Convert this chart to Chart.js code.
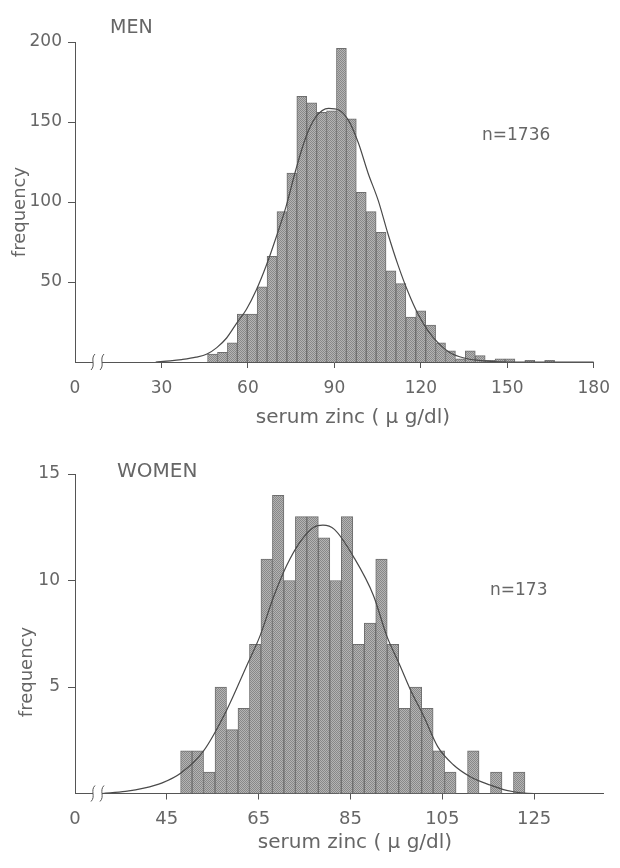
<!DOCTYPE html>
<html>
<head>
<meta charset="utf-8">
<script src="https://cdn.jsdelivr.net/npm/chart.js@4.4.1/dist/chart.umd.min.js"></script>
<style>
    html, body { margin: 0; padding: 0; background: #fff; }
    .panel { position: absolute; left: 0; width: 620px; height: 434px; }
    #men-panel { top: 0; }
    #women-panel { top: 434px; }
</style>
</head>
<body>
<div class="panel" id="men-panel"><canvas id="men-chart" width="620" height="434"></canvas></div>
<div class="panel" id="women-panel"><canvas id="women-chart" width="620" height="434"></canvas></div>
<script>
// MEN - bin centres (ug/dl) and counts
const menBins = [47.72, 51.16, 54.60, 58.04, 61.48, 64.92, 68.36, 71.80, 75.24, 78.68,
                 82.12, 85.56, 89.00, 92.44, 95.88, 99.32, 102.76, 106.20, 109.64, 113.08,
                 116.52, 119.96, 123.40, 126.84, 130.28, 133.72, 137.16, 140.60, 144.04, 147.48,
                 150.92, 154.36, 157.80, 161.24, 164.68];
const menCounts = [5, 6, 12, 30, 30, 47, 66, 94, 118, 166,
                   162, 156, 157, 196, 152, 106, 94, 81, 57, 49,
                   28, 32, 23, 12, 7, 2, 7, 4, 1, 2,
                   2, 0, 1, 0, 1];
// fitted curve, traced point by point
const menCurveX = [28, 33, 37, 42, 45.8, 49.2, 52.6, 56, 59.5, 62.9, 66.3, 69.8, 73.2, 76.6, 80, 83.5,
                   88, 91.5, 94.9, 98.3, 101.7, 105.2, 108.6, 112, 115.5, 119, 122.7, 126, 130, 135,
                   140, 145, 150, 180];
const menCurveY = [0, 0.7, 1.5, 3, 5, 9, 15, 24, 33, 45, 60, 78, 97, 120, 140, 153,
                   158.5, 157.5, 151, 137, 118, 101, 80, 61, 44, 30, 19, 12, 6, 2.5,
                   1, 0.3, 0, 0];
const menXTicks = [0, 30, 60, 90, 120, 150, 180];
const menXLabels = ['0', '30', '60', '90', '120', '150', '180'];
const menYTicks = [50, 100, 150, 200];

// WOMEN
const womenBins = [49.25, 51.75, 54.25, 56.75, 59.25, 61.75, 64.25, 66.75, 69.25, 71.75,
                   74.25, 76.75, 79.25, 81.75, 84.25, 86.75, 89.25, 91.75, 94.25, 96.75,
                   99.25, 101.75, 104.25, 106.75, 109.25, 111.75, 114.25, 116.75, 119.25, 121.75];
const womenCounts = [2, 2, 1, 5, 3, 4, 7, 11, 14, 10,
                     13, 13, 12, 10, 13, 7, 8, 11, 7, 4,
                     5, 4, 2, 1, 0, 2, 0, 1, 0, 1];
const womenCurveX = [31, 36, 40, 44, 48, 53, 58, 62.4, 65.3, 68.2, 71.1, 74, 77, 79, 81.5, 85.7,
                     90, 92.9, 95.8, 98, 101, 104, 107.4, 111, 115.4, 119, 125, 140];
const womenCurveY = [0, 0.1, 0.25, 0.5, 0.95, 2.0, 3.9, 6.0, 7.4, 9.2, 10.7, 11.8, 12.5, 12.6, 12.4, 11.1,
                     9.3, 7.4, 6.0, 4.9, 3.6, 2.2, 1.35, 0.8, 0.4, 0.15, 0, 0];
const womenXTicks = [25, 45, 65, 85, 105, 125];   // axis is broken, 25 sits at the "0"
const womenXLabels = ['0', '45', '65', '85', '105', '125'];
const womenYTicks = [5, 10, 15];

const FONT = "'DejaVu Sans', sans-serif";
const TEXT_COLOR = '#666';
const AXIS_COLOR = '#555';

Chart.defaults.font.family = FONT;
Chart.defaults.color = TEXT_COLOR;

// halftone-ish fill like the printed bars
function stipple(canvas) {
    const c = document.createElement('canvas');
    c.width = 2; c.height = 2;
    const g = c.getContext('2d');
    g.fillStyle = '#b4b4b4';
    g.fillRect(0, 0, 2, 2);
    g.fillStyle = '#888';
    g.fillRect(0, 0, 1, 1);
    g.fillRect(1, 1, 1, 1);
    return canvas.getContext('2d').createPattern(c, 'repeat');
}

// panel text + the little axis break marks
const paperNotes = {
    id: 'paperNotes',
    afterDraw(chart, args, opts) {
        const ctx = chart.ctx;
        const y0 = chart.chartArea.bottom;
        ctx.save();

        const [b1, b2] = opts.breakAt;
        ctx.fillStyle = '#fff';
        ctx.fillRect(b1, y0 - 2, b2 - b1, 4);
        ctx.strokeStyle = AXIS_COLOR;
        ctx.lineWidth = 1;
        [b1, b2].forEach(x => {
            ctx.beginPath();
            ctx.moveTo(x + 2, y0 - 8);
            ctx.bezierCurveTo(x - 3, y0 - 3, x + 3, y0 + 3, x - 2, y0 + 8);
            ctx.stroke();
        });

        ctx.fillStyle = TEXT_COLOR;
        ctx.textBaseline = 'middle';
        opts.labels.forEach(t => {
            ctx.save();
            ctx.font = t.size + 'px ' + FONT;
            ctx.textAlign = t.align || 'left';
            ctx.translate(t.x, t.y);
            if (t.rotate) ctx.rotate(-Math.PI / 2);
            ctx.fillText(t.text, 0, 0);
            ctx.restore();
        });
        ctx.restore();
    }
};

function histogramChart(canvasId, cfg) {
    const canvas = document.getElementById(canvasId);
    return new Chart(canvas, {
        type: 'bar',
        data: {
            datasets: [
                {
                    type: 'line',
                    data: cfg.curveX.map((x, i) => ({ x: x, y: cfg.curveY[i] })),
                    borderColor: '#4a4a4a',
                    borderWidth: 1.2,
                    pointRadius: 0,
                    cubicInterpolationMode: 'monotone',
                    fill: false,
                    order: 0
                },
                {
                    type: 'bar',
                    data: cfg.bins.map((x, i) => ({ x: x, y: cfg.counts[i] })),
                    backgroundColor: stipple(canvas),
                    borderColor: '#6e6e6e',
                    borderWidth: 1,
                    barPercentage: 1,
                    categoryPercentage: 1,
                    order: 1
                }
            ]
        },
        options: {
            responsive: false,
            animation: false,
            events: [],
            layout: { padding: { top: cfg.top, right: cfg.right, left: 0, bottom: 0 } },
            plugins: {
                legend: { display: false },
                tooltip: { enabled: false },
                paperNotes: cfg.notes
            },
            scales: {
                x: {
                    type: 'linear',
                    min: cfg.xMin,
                    max: cfg.xMax,
                    offset: false,
                    afterBuildTicks: s => { s.ticks = cfg.xTicks.map(v => ({ value: v })); },
                    afterFit: s => { s.height = cfg.xHeight; },
                    ticks: {
                        autoSkip: false,
                        maxRotation: 0,
                        padding: cfg.xPad,
                        font: { size: cfg.xFont },
                        callback: (v, i) => cfg.xLabels[i]
                    },
                    grid: {
                        offset: false,
                        drawOnChartArea: false,
                        tickLength: 6,
                        tickColor: c => c.index === 0 ? 'rgba(0,0,0,0)' : AXIS_COLOR
                    },
                    border: { color: AXIS_COLOR, width: 1 }
                },
                y: {
                    min: 0,
                    max: cfg.yMax,
                    afterBuildTicks: s => { s.ticks = cfg.yTicks.map(v => ({ value: v })); },
                    afterFit: s => { s.width = 75; },
                    ticks: { padding: cfg.yPad, font: { size: 17 } },
                    grid: { drawOnChartArea: false, tickLength: 7, tickColor: AXIS_COLOR },
                    border: { color: AXIS_COLOR, width: 1 }
                }
            }
        },
        plugins: [paperNotes]
    });
}

histogramChart('men-chart', {
    bins: menBins, counts: menCounts,
    curveX: menCurveX, curveY: menCurveY,
    xTicks: menXTicks, xLabels: menXLabels, yTicks: menYTicks,
    xMin: 0, xMax: 180, yMax: 200,
    top: 42, right: 18, xHeight: 72,
    xPad: 10, xFont: 17, yPad: 6,
    notes: {
        breakAt: [93, 102],
        labels: [
            { text: 'MEN', x: 110, y: 28, size: 19 },
            { text: 'n=1736', x: 482, y: 136, size: 17 },
            { text: 'frequency', x: 20, y: 212, size: 18, align: 'center', rotate: true },
            { text: 'serum zinc ( \u03bc g/dl)', x: 353, y: 418, size: 20, align: 'center' }
        ]
    }
});

histogramChart('women-chart', {
    bins: womenBins, counts: womenCounts,
    curveX: womenCurveX, curveY: womenCurveY,
    xTicks: womenXTicks, xLabels: womenXLabels, yTicks: womenYTicks,
    xMin: 25, xMax: 140, yMax: 15,
    top: 40, right: 17, xHeight: 74.5,
    xPad: 9, xFont: 18, yPad: 8,
    notes: {
        breakAt: [93, 102],
        labels: [
            { text: 'WOMEN', x: 117, y: 38, size: 20 },
            { text: 'n=173', x: 490, y: 157, size: 17 },
            { text: 'frequency', x: 27, y: 238, size: 18, align: 'center', rotate: true },
            { text: 'serum zinc ( \u03bc g/dl)', x: 355, y: 409, size: 20, align: 'center' }
        ]
    }
});
</script>
</body>
</html>
